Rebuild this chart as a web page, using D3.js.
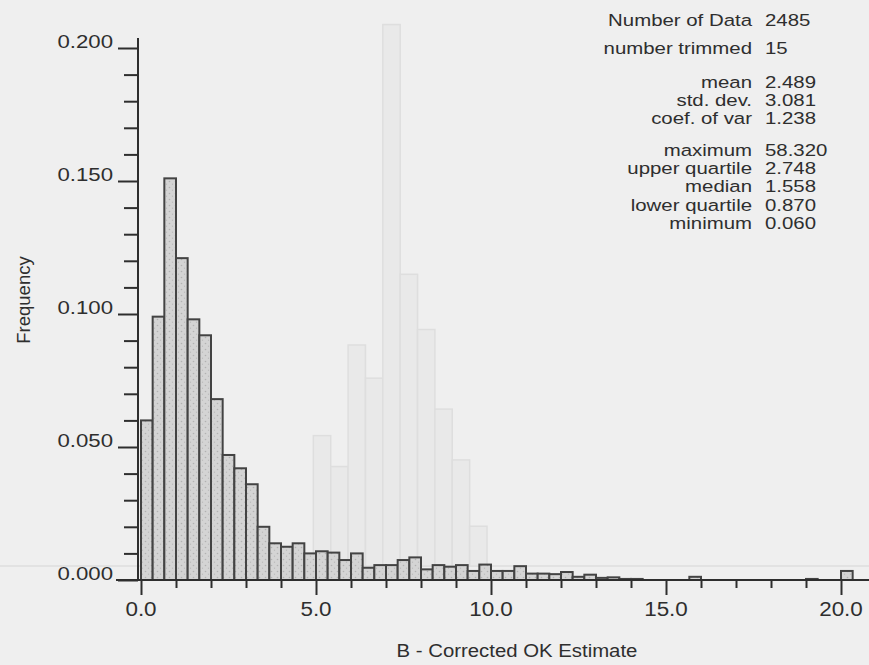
<!DOCTYPE html>
<html><head><meta charset="utf-8">
<script src="https://cdn.jsdelivr.net/npm/d3@7"></script>
<style>html,body{margin:0;padding:0;background:#efefef;} svg{display:block}</style>
</head><body><svg id="c" width="869" height="665"></svg>
<script>
// ---- data ----
const binWidth = 1 / 3;
const frequencies = [
  0.060, 0.099, 0.151, 0.121, 0.098, 0.092, 0.068, 0.047, 0.042, 0.036,
  0.020, 0.0138, 0.0125, 0.0138, 0.0100, 0.0108, 0.0103, 0.0075, 0.0100, 0.0046,
  0.0056, 0.0056, 0.0075, 0.0085, 0.0040, 0.0056, 0.0050, 0.0056, 0.0034, 0.0058,
  0.0034, 0.0034, 0.0052, 0.0024, 0.0024, 0.0022, 0.0030, 0.0012, 0.0020, 0.0008,
  0.0010, 0.0004, 0.0004, 0, 0, 0, 0, 0.0012, 0, 0,
  0, 0, 0, 0, 0, 0, 0, 0.0004, 0, 0,
  0.0034
];
const xMajorTicks = [0, 5, 10, 15, 20];
const xTickLabels = ["0.0", "5.0", "10.0", "15.0", "20.0"];
const xMinorTicks = [1, 2, 3, 4, 6, 7, 8, 9, 11, 12, 13, 14, 16, 17, 18, 19, 21];
const yMajorTicks = [0, 0.05, 0.10, 0.15, 0.20];
const yTickLabels = ["0.000", "0.050", "0.100", "0.150", "0.200"];
const yMinorTicks = [0.01, 0.02, 0.03, 0.04, 0.06, 0.07, 0.08, 0.09, 0.11, 0.12, 0.13, 0.14, 0.16, 0.17, 0.18, 0.19];
const xTitle = "B - Corrected OK Estimate";
const yTitle = "Frequency";
const statLabels = ["Number of Data", "number trimmed", "mean", "std. dev.", "coef. of var",
  "maximum", "upper quartile", "median", "lower quartile", "minimum"];
const statValues = ["2485", "15", "2.489", "3.081", "1.238", "58.320", "2.748", "1.558", "0.870", "0.060"];
// faint show-through histogram from the reverse side of the printed page
const ghostFrequencies = [0.004, 0.059, 0.045, 0.100, 0.085, 0.245, 0.132, 0.107, 0.071, 0.048, 0.018];

// ---- layout ----
const svg = d3.select("#c");
const W = 869, H = 665;
const ink = "#2e2e2e";
const font = "'Liberation Sans', Arial, Helvetica, sans-serif";
svg.append("rect").attr("width", W).attr("height", H).attr("fill", "#efefef");

const x = d3.scaleLinear().domain([0, 20]).range([141, 841]);
const y = d3.scaleLinear().domain([0, 0.2]).range([580, 48]);
const axisX = 138;

// ghost layer
const gx = d3.scaleLinear().domain([0, ghostFrequencies.length]).range([296, 487]);
const gy = d3.scaleLinear().domain([0, 0.1]).range([566, 345]);
const ghost = svg.append("g");
ghost.append("line").attr("x1", 0).attr("x2", W).attr("y1", gy(0)).attr("y2", gy(0))
  .attr("stroke", "#e2e2e2").attr("stroke-width", 2);
ghost.selectAll("rect").data(ghostFrequencies).join("rect")
  .attr("x", (d, i) => gx(i)).attr("width", (d, i) => gx(i + 1) - gx(i))
  .attr("y", d => gy(d)).attr("height", d => gy(0) - gy(d))
  .attr("fill", "#e9e9e9").attr("stroke", "#dedede").attr("stroke-width", 1.5);

// stipple pattern
const defs = svg.append("defs");
const pat = defs.append("pattern").attr("id", "stip").attr("patternUnits", "userSpaceOnUse")
  .attr("width", 6).attr("height", 6);
pat.append("rect").attr("width", 6).attr("height", 6).attr("fill", "#d4d4d4");
pat.append("circle").attr("cx", 1.5).attr("cy", 1.5).attr("r", 0.8).attr("fill", "#b2b2b2");
pat.append("circle").attr("cx", 4.5).attr("cy", 4.2).attr("r", 0.7).attr("fill", "#bbbbbb");

// bars
const bins = frequencies.map((f, i) => ({ x0: i * binWidth, x1: (i + 1) * binWidth, f }))
  .filter(d => d.f > 0);
svg.append("g").selectAll("rect").data(bins).join("rect")
  .attr("x", d => x(d.x0)).attr("width", d => x(d.x1) - x(d.x0))
  .attr("y", d => y(d.f)).attr("height", d => y(0) - y(d.f))
  .attr("fill", "url(#stip)").attr("stroke", "#434343").attr("stroke-width", 2);

// axes lines
svg.append("line").attr("x1", 116).attr("x2", W).attr("y1", y(0)).attr("y2", y(0))
  .attr("stroke", ink).attr("stroke-width", 2);
svg.append("line").attr("x1", axisX).attr("x2", axisX).attr("y1", y(0)).attr("y2", 38)
  .attr("stroke", ink).attr("stroke-width", 2);

// y ticks
const yAxisG = svg.append("g").attr("transform", `translate(${axisX},0)`);
yAxisG.call(d3.axisLeft(y).tickValues(yMajorTicks).tickSize(20).tickFormat(""));
yAxisG.append("g").call(d3.axisLeft(y).tickValues(yMinorTicks).tickSize(14).tickFormat(""));
yAxisG.selectAll(".domain").remove();
yAxisG.selectAll("line").attr("stroke", ink).attr("stroke-width", 2);

// x ticks
const xAxisG = svg.append("g").attr("transform", `translate(0,${y(0)})`);
xAxisG.call(d3.axisBottom(x).tickValues(xMajorTicks).tickSize(15).tickFormat(""));
xAxisG.append("g").call(d3.axisBottom(x).tickValues(xMinorTicks).tickSize(8).tickFormat(""));
xAxisG.selectAll(".domain").remove();
xAxisG.selectAll("line").attr("stroke", ink).attr("stroke-width", 2);

function stretchedText(g, tx, ty, str, size, anchor, sx) {
  return g.append("text").attr("transform", `translate(${tx},${ty}) scale(${sx},1)`)
    .attr("text-anchor", anchor).attr("font-family", font).attr("font-size", size)
    .attr("fill", ink).text(str);
}

// y tick labels
yMajorTicks.forEach((v, i) => stretchedText(svg, 113, y(v), yTickLabels[i], 18.5, "end", 1.2));
// x tick labels
xMajorTicks.forEach((v, i) => stretchedText(svg, x(v), 616, xTickLabels[i], 19.5, "middle", 1.15));
// titles
stretchedText(svg, 517, 657, xTitle, 18.5, "middle", 1.1);
svg.append("text").attr("transform", `translate(30,300) rotate(-90)`)
  .attr("text-anchor", "middle").attr("font-family", font).attr("font-size", 18.5)
  .attr("fill", ink).text(yTitle);

// stats block
const statBase = [26, 54, 88, 106, 124, 156, 174, 192, 211, 229];
statLabels.forEach((s, i) => {
  stretchedText(svg, 752, statBase[i], s, 17, "end", 1.2);
  stretchedText(svg, 765, statBase[i], statValues[i], 17, "start", 1.2);
});
</script></body></html>
